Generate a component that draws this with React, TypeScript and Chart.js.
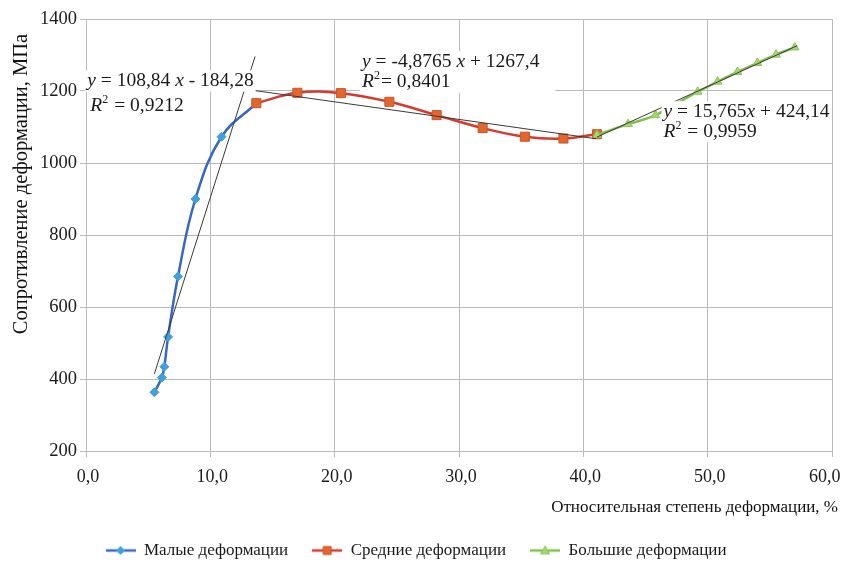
import React, { useEffect, useRef } from 'react';
import { Chart, registerables } from 'chart.js';

Chart.register(...registerables);

const FONT = '"Liberation Serif", "Times New Roman", serif';

// ---- data ----
const seriesNames = ['Малые деформации', 'Средние деформации', 'Большие деформации'];

const smallX = [5.5, 6.1, 6.3, 6.6, 7.4, 8.8, 10.9, 13.7];
const smallY = [363, 404, 434, 517, 685, 900, 1073, 1166];

const mediumX = [13.7, 17.0, 20.5, 24.4, 28.2, 31.9, 35.3, 38.4, 41.1];
const mediumY = [1166, 1195, 1194, 1170, 1133, 1097, 1073, 1068, 1080];

const largeX = [41.1, 43.6, 45.8, 49.2, 50.8, 52.4, 54.0, 55.5, 57.0];
const largeY = [1078, 1108, 1133, 1198, 1226, 1253, 1278, 1301, 1321];

// linear trendlines shown on the chart (slope, intercept) and their x ranges
const trendSlope = [108.84, -4.8765, 15.765];
const trendIntercept = [-184.28, 1267.4, 424.14];
const trendFrom = [5.5, 13.4, 41.1];
const trendTo = [13.6, 41.0, 57.2];

const xTicks = [0, 10, 20, 30, 40, 50, 60];
const yTicks = [200, 400, 600, 800, 1000, 1200, 1400];

const xTitle = 'Относительная степень деформации, %';
const yTitle = 'Сопротивление деформации, МПа';

// ---- styles ----
const lineColors = ['#3566c8', '#d63a2f', '#80c04c'];
const markerFill = ['#3fa0da', '#e2672e', '#a6d56f'];
const markerBorder = ['#3fa0da', '#c9552a', '#8cc45a'];
const markerStyle = ['rectRot', 'rect', 'triangle'];
const markerRadius = [4.5, 6.4, 5];
const GRID = '#bababa';
const TEXT = '#1a1a1a';

type Run = [string, 'n' | 'i' | 's'];
interface EqLine { x: number; y: number; runs: Run[] }
interface EqLabel { uniform: boolean; lines: EqLine[] }

// equation labels anchored in data units
const eqLabels: EqLabel[] = [
  {
    uniform: false,
    lines: [
      { x: 0.1, y: 1228, runs: [['y', 'i'], [' = 108,84 ', 'n'], ['x', 'i'], [' - 184,28', 'n']] },
      { x: 0.35, y: 1158, runs: [['R', 'i'], ['2', 's'], [' = 0,9212', 'n']] },
    ],
  },
  {
    uniform: true,
    lines: [
      { x: 22.2, y: 1281, runs: [['y', 'i'], [' = -4,8765 ', 'n'], ['x', 'i'], [' + 1267,4', 'n']] },
      { x: 22.2, y: 1225, runs: [['R', 'i'], ['2', 's'], ['= 0,8401', 'n']] },
    ],
  },
  {
    uniform: false,
    lines: [
      { x: 46.45, y: 1142, runs: [['y', 'i'], [' = 15,765', 'n'], ['x', 'i'], [' + 424,14', 'n']] },
      { x: 46.45, y: 1087, runs: [['R', 'i'], ['2', 's'], [' = 0,9959', 'n']] },
    ],
  },
];

const EQ_SIZE = 19.5;

function runFont(kind: 'n' | 'i' | 's') {
  if (kind === 'i') return `italic ${EQ_SIZE}px ${FONT}`;
  if (kind === 's') return `${Math.round(EQ_SIZE * 0.62)}px ${FONT}`;
  return `${EQ_SIZE}px ${FONT}`;
}

function runsWidth(ctx: CanvasRenderingContext2D, runs: Run[]) {
  let w = 0;
  for (const [t, k] of runs) {
    ctx.font = runFont(k);
    w += ctx.measureText(t).width + (k === 's' ? 1 : 0);
  }
  return w;
}

const fmtX = (v: number) => v.toFixed(1).replace('.', ',');

const labelPlugin = {
  id: 'eqLabels',
  afterDatasetsDraw(chart: any) {
    const ctx: CanvasRenderingContext2D = chart.ctx;
    const xs = chart.scales.x;
    const ys = chart.scales.y;
    ctx.save();
    for (const label of eqLabels) {
      const widths = label.lines.map((ln) => runsWidth(ctx, ln.runs));
      const maxW = Math.max(...widths) + 14;
      label.lines.forEach((ln, li) => {
        let px = xs.getPixelForValue(ln.x);
        const py = ys.getPixelForValue(ln.y);
        const w = label.uniform ? maxW : widths[li];
        ctx.fillStyle = '#ffffff';
        ctx.fillRect(px - 2, py - EQ_SIZE * 0.55, w + 4, EQ_SIZE * 1.1);
        ctx.fillStyle = TEXT;
        ctx.textBaseline = 'middle';
        ctx.textAlign = 'left';
        for (const [t, k] of ln.runs) {
          ctx.font = runFont(k);
          const dy = k === 's' ? -EQ_SIZE * 0.3 : 0;
          ctx.fillText(t, px, py + dy);
          px += ctx.measureText(t).width + (k === 's' ? 1 : 0);
        }
      });
    }
    ctx.restore();
  },
  afterDraw(chart: any) {
    const ctx: CanvasRenderingContext2D = chart.ctx;
    const area = chart.chartArea;
    const xs = chart.scales.x;
    const cw = chart.width;
    ctx.save();
    // x tick labels (last one kept inside the canvas like the original)
    ctx.font = `18px ${FONT}`;
    ctx.fillStyle = TEXT;
    ctx.textAlign = 'center';
    ctx.textBaseline = 'middle';
    for (const t of xs.ticks) {
      const s = fmtX(t.value);
      const w = ctx.measureText(s).width;
      let px = xs.getPixelForValue(t.value) + 2;
      px = Math.min(px, cw - w / 2 - 0.5);
      ctx.fillText(s, px, area.bottom + 26.5);
    }
    // x axis title
    ctx.font = `17px ${FONT}`;
    ctx.fillStyle = '#111';
    ctx.textAlign = 'right';
    ctx.fillText(xTitle, area.right + 6, area.bottom + 57);
    // y axis title
    ctx.translate(22, area.top + (area.bottom - area.top) * 0.382);
    ctx.rotate(-Math.PI / 2);
    ctx.font = `20.5px ${FONT}`;
    ctx.textAlign = 'center';
    ctx.fillText(yTitle, 0, 0);
    ctx.restore();
  },
};

function makeIcon(i: number): HTMLCanvasElement {
  const c = document.createElement('canvas');
  c.width = 30;
  c.height = 14;
  const g = c.getContext('2d')!;
  g.strokeStyle = lineColors[i];
  g.lineWidth = 2.5;
  g.beginPath();
  g.moveTo(0, 7);
  g.lineTo(30, 7);
  g.stroke();
  g.fillStyle = markerFill[i];
  g.strokeStyle = markerBorder[i];
  g.lineWidth = 1;
  g.beginPath();
  if (i === 0) {
    g.moveTo(15, 3); g.lineTo(19, 7); g.lineTo(15, 11); g.lineTo(11, 7); g.closePath();
  } else if (i === 1) {
    g.rect(11, 3, 8, 8);
  } else {
    g.moveTo(15, 2.5); g.lineTo(19.5, 10.5); g.lineTo(10.5, 10.5); g.closePath();
  }
  g.fill();
  g.stroke();
  return c;
}

export default function App() {
  const ref = useRef<HTMLCanvasElement | null>(null);

  useEffect(() => {
    if (!ref.current) return;
    const icons = [0, 1, 2].map(makeIcon);
    const xsArr = [smallX, mediumX, largeX];
    const ysArr = [smallY, mediumY, largeY];
    const orders = [3, 2, 1];

    const series = [0, 1, 2].map((i) => ({
      label: seriesNames[i],
      data: xsArr[i].map((x, j) => ({ x, y: ysArr[i][j] })),
      borderColor: lineColors[i],
      borderWidth: 2.5,
      pointStyle: markerStyle[i],
      pointRadius: markerRadius[i],
      pointBackgroundColor: markerFill[i],
      pointBorderColor: markerBorder[i],
      pointBorderWidth: 1,
      tension: 0.4,
      fill: false,
      order: orders[i],
    }));

    const trends = [0, 1, 2].map((i) => ({
      label: 'trend' + i,
      data: [trendFrom[i], trendTo[i]].map((x) => ({ x, y: trendSlope[i] * x + trendIntercept[i] })),
      borderColor: '#3a3a3a',
      borderWidth: 1,
      pointRadius: 0,
      tension: 0,
      fill: false,
      order: 0,
    }));

    const chart = new Chart(ref.current, {
      type: 'line',
      data: { datasets: [...series, ...trends] as any },
      options: {
        animation: false,
        responsive: false,
        events: [],
        layout: { padding: { top: 19, right: 9, bottom: 2, left: 0 } },
        plugins: {
          tooltip: { enabled: false },
          legend: {
            position: 'bottom',
            maxHeight: 46,
            labels: {
              usePointStyle: true,
              pointStyleWidth: 30,
              padding: 24,
              color: TEXT,
              font: { family: FONT, size: 17 },
              generateLabels: () =>
                seriesNames.map((name, i) => ({
                  text: name,
                  pointStyle: icons[i] as any,
                  datasetIndex: i,
                  hidden: false,
                  fillStyle: markerFill[i],
                  strokeStyle: lineColors[i],
                  lineWidth: 0,
                  fontColor: TEXT,
                })),
            },
          },
        },
        scales: {
          x: {
            type: 'linear',
            min: xTicks[0],
            max: xTicks[xTicks.length - 1],
            afterBuildTicks: (s: any) => { s.ticks = xTicks.map((v) => ({ value: v })); },
            afterFit: (s: any) => { s.height = 67; s.paddingRight = 0; s.paddingLeft = 0; },
            ticks: {
              display: false,
              callback: (v: any) => fmtX(Number(v)),
            },
            grid: { color: GRID, tickLength: 6, drawTicks: true },
            border: { color: GRID },
          },
          y: {
            type: 'linear',
            min: yTicks[0],
            max: yTicks[yTicks.length - 1],
            afterBuildTicks: (s: any) => { s.ticks = yTicks.map((v) => ({ value: v })); },
            afterFit: (s: any) => { s.width = 86; },
            ticks: {
              padding: 3,
              color: TEXT,
              font: { family: FONT, size: 18.5 },
              callback: (v: any) => String(v),
            },
            grid: { color: GRID, tickLength: 6, drawTicks: true },
            border: { color: GRID },
          },
        },
      },
      plugins: [labelPlugin],
    } as any);

    return () => chart.destroy();
  }, []);

  return (
    <div style={{ position: 'absolute', left: 0, top: 0, width: 841, height: 566, background: '#fff' }}>
      <canvas ref={ref} width={841} height={566} style={{ display: 'block', width: 841, height: 566 }} />
    </div>
  );
}
